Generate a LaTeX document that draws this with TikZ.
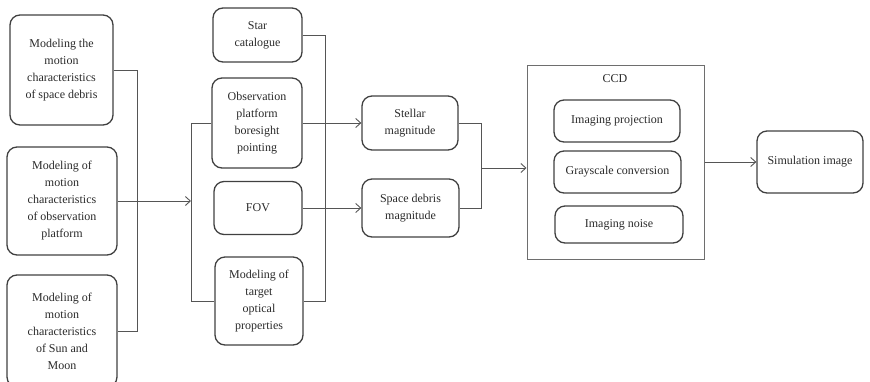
\documentclass[tikz,border=0pt]{standalone}
\usepackage{fontspec}
\setmainfont{Liberation Serif}
\usetikzlibrary{arrows.meta}
\definecolor{txt}{HTML}{2A2A2A}
\definecolor{bord}{HTML}{404040}
\definecolor{conn}{HTML}{555555}
\tikzset{
  x=1pt, y=-1pt,
  box/.style={draw=bord, line width=1.3pt, rounded corners=10pt, align=center,
    text=txt, inner sep=2pt, font=\fontsize{12}{17}\selectfont},
  ccdbox/.style={draw=conn!85, line width=1pt, inner sep=0pt},
  conline/.style={draw=conn, line width=0.9pt},
  arr/.style={conline, -{Straight Barb[length=5pt,width=9pt]}},
}
\begin{document}
\begin{tikzpicture}
\useasboundingbox (0,0) rectangle (870,381);
% left column
\node[box, minimum width=103pt, minimum height=110pt] (A) at (61.5,70)
  {Modeling the\\motion\\characteristics\\of space debris};
\node[box, minimum width=110pt, minimum height=108pt] (B) at (62,201)
  {Modeling of\\motion\\characteristics\\of observation\\platform};
\node[box, minimum width=110pt, minimum height=112pt] (C) at (62,331)
  {Modeling of\\motion\\characteristics\\of Sun and\\Moon};
% middle column
\node[box, minimum width=89pt, minimum height=54pt] (Star) at (257.5,35)
  {Star\\catalogue};
\node[box, minimum width=90pt, minimum height=90pt] (Obs) at (257,123)
  {Observation\\platform\\boresight\\pointing};
\node[box, minimum width=88pt, minimum height=53pt] (FOV) at (258,208)
  {FOV};
\node[box, minimum width=88pt, minimum height=88pt] (Tgt) at (259,301)
  {Modeling of\\target\\optical\\properties};
% magnitudes
\node[box, minimum width=96pt, minimum height=54pt] (Stel) at (410,123)
  {Stellar\\magnitude};
\node[box, minimum width=97pt, minimum height=58pt] (Spc) at (410.5,208)
  {Space debris\\magnitude};
% CCD
\node[ccdbox, minimum width=177pt, minimum height=194pt] (CCD) at (615.5,162) {};
\node[text=txt, font=\fontsize{12}{17}\selectfont] (CCDl) at (615,79) {CCD};
\node[box, minimum width=126pt, minimum height=42pt] (IP) at (617,121)
  {Imaging projection};
\node[box, minimum width=127pt, minimum height=42pt] (GC) at (617.5,172)
  {Grayscale conversion};
\node[box, minimum width=128pt, minimum height=37pt] (IN) at (619,224.5)
  {Imaging noise};
\node[box, minimum width=106pt, minimum height=62pt] (Sim) at (810,162)
  {Simulation image};
% junction coordinates
\coordinate (jA) at (137,0);
\coordinate (jL) at (191,0);
\coordinate (jR) at (325,0);
\coordinate (jM) at (481,0);
% connectors
\draw[conline] (A.east) -- (A.east -| jA) -- (C.east -| jA) -- (C.east);
\draw[arr] (B.east) -- (B.east -| jL);
\draw[conline] (Obs.west) -- (Obs.west -| jL) -- (Tgt.west -| jL) -- (Tgt.west);
\draw[conline] (Star.east) -- (Star.east -| jR) -- (Tgt.east -| jR) -- (Tgt.east);
\draw[arr] (Obs.east) -- (Stel.west);
\draw[arr] (FOV.east) -- (Spc.west);
\draw[conline] (Stel.east) -- (Stel.east -| jM) -- (Spc.east -| jM) -- (Spc.east);
\draw[arr] ([yshift=-6pt]CCD.west -| jM) -- ([yshift=-6pt]CCD.west);
\draw[arr] (CCD.east) -- (Sim.west);
\end{tikzpicture}
\end{document}
